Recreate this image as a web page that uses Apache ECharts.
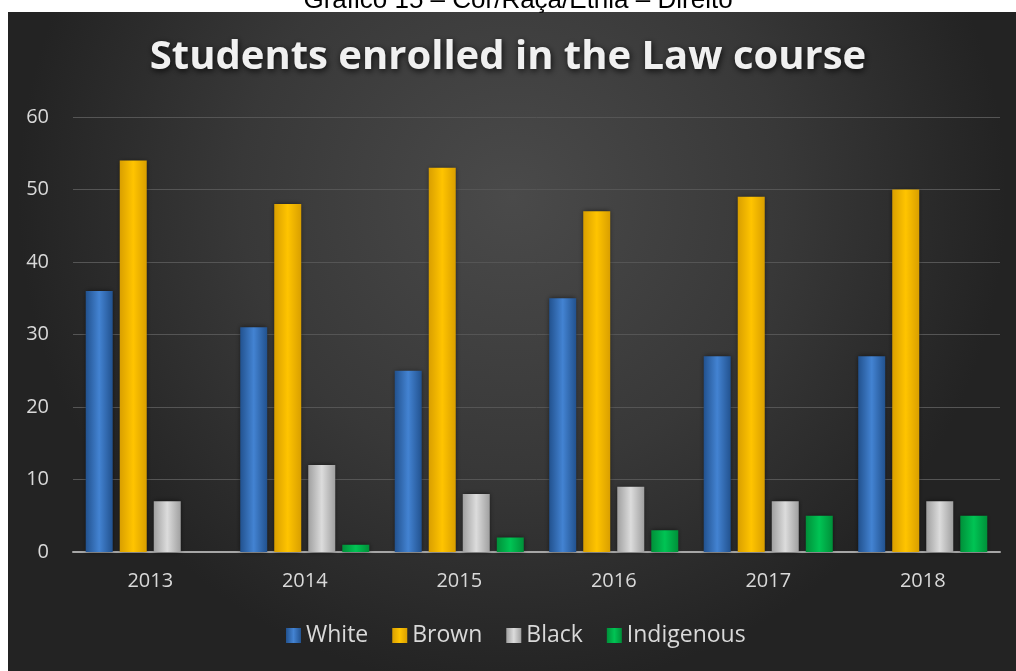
<!DOCTYPE html>
<html>
<head>
<meta charset="utf-8">
<script src="https://cdn.jsdelivr.net/npm/echarts@6/dist/echarts.min.js"></script>
<style>
  html, body { margin: 0; padding: 0; background: #ffffff; }
  #chart { width: 1016px; height: 671px; }
</style>
</head>
<body>
<div id="chart"></div>
<script>
// Enrollment in the Law course by colour/race/ethnicity
const years = ['2013', '2014', '2015', '2016', '2017', '2018'];
const white = [36, 31, 25, 35, 27, 27];
const brown = [54, 48, 53, 47, 49, 50];
const black = [7, 12, 8, 9, 7, 7];
const indigenous = [0, 1, 2, 3, 5, 5];
const yTicks = [0, 10, 20, 30, 40, 50, 60];

const FONT = '"Open Sans", "Noto Sans", sans-serif';

// cylinder-like horizontal shading for each bar colour
function shade(edge, mid) {
  return new echarts.graphic.LinearGradient(0, 0, 1, 0, [
    { offset: 0, color: edge },
    { offset: 0.5, color: mid },
    { offset: 1, color: edge }
  ]);
}

function barSeries(name, data, edge, mid) {
  return {
    name: name,
    type: 'bar',
    data: data,
    barWidth: 27,
    barGap: '26%',
    itemStyle: {
      color: shade(edge, mid),
      shadowColor: 'rgba(0,0,0,0.55)',
      shadowBlur: 5
    }
  };
}

const chart = echarts.init(document.getElementById('chart'), null, { renderer: 'canvas' });

chart.setOption({
  backgroundColor: '#ffffff',
  animation: false,
  graphic: [
    {
      type: 'text',
      x: 518,
      y: 1,
      z: 0,
      style: {
        text: 'Gráfico 15 – Cor/Raça/Etnia – Direito',
        font: '26px "Liberation Sans", Arial, sans-serif',
        fill: '#000000',
        align: 'center',
        verticalAlign: 'middle'
      }
    },
    {
      type: 'rect',
      shape: { x: 8, y: 12, width: 1008, height: 659 },
      z: -10,
      silent: true,
      style: {
        fill: new echarts.graphic.RadialGradient(0.5, 0.28, 0.75, [
          { offset: 0, color: '#4a4a4a' },
          { offset: 0.55, color: '#383838' },
          { offset: 1, color: '#232323' }
        ])
      }
    }
  ],
  title: {
    text: 'Students enrolled in the Law course',
    left: 'center',
    top: 33,
    textStyle: {
      fontFamily: FONT,
      fontWeight: 'bold',
      fontSize: 40,
      color: '#f0f0f0',
      textShadowColor: 'rgba(0,0,0,0.8)',
      textShadowBlur: 6,
      textShadowOffsetX: 1,
      textShadowOffsetY: 2
    }
  },
  legend: {
    bottom: 19,
    left: 281,
    icon: 'rect',
    itemWidth: 15,
    itemHeight: 15,
    itemGap: 24,
    textStyle: { fontFamily: FONT, fontSize: 23, color: '#d9d9d9' },
    data: ['White', 'Brown', 'Black', 'Indigenous']
  },
  grid: { left: 73, right: 16, top: 117, bottom: 119, containLabel: false },
  xAxis: {
    type: 'category',
    data: years,
    axisLine: { lineStyle: { color: '#a6a6a6', width: 2 } },
    axisTick: { show: false },
    axisLabel: { fontFamily: FONT, fontSize: 20, color: '#d9d9d9', margin: 19 }
  },
  yAxis: {
    type: 'value',
    min: yTicks[0],
    max: yTicks[yTicks.length - 1],
    interval: 10,
    axisLine: { show: false },
    axisTick: { show: false },
    axisLabel: { fontFamily: FONT, fontSize: 20, color: '#d9d9d9', margin: 24 },
    splitLine: { lineStyle: { color: '#555555', width: 1 } }
  },
  series: [
    barSeries('White', white, '#22528f', '#4383d2'),
    barSeries('Brown', brown, '#d99f00', '#ffc400'),
    barSeries('Black', black, '#a0a0a0', '#dcdcdc'),
    barSeries('Indigenous', indigenous, '#009039', '#00c454')
  ]
});
</script>
</body>
</html>
